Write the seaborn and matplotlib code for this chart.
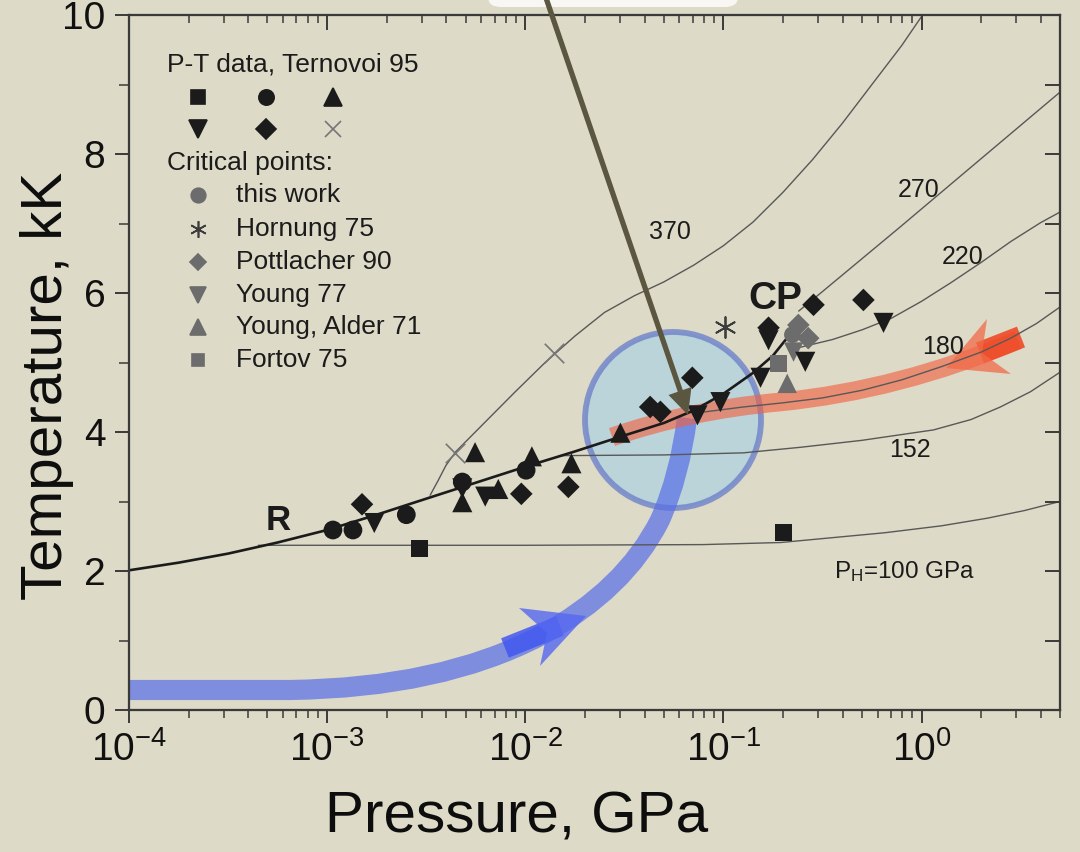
import numpy as np
import matplotlib
matplotlib.use("Agg")
import matplotlib.pyplot as plt
import seaborn as sns
from matplotlib.lines import Line2D
from matplotlib.patches import Ellipse, Polygon, PathPatch, FancyBboxPatch
from matplotlib.path import Path
from matplotlib.ticker import (LogLocator, MultipleLocator, FuncFormatter,
                               NullFormatter, NullLocator)

# ---------------------------------------------------------------- data
# liquid-vapour boundary (pressure in GPa, temperature in kK)
binodal_p = [1.0e-4, 1.78e-4, 3.16e-4, 5.62e-4, 1.0e-3, 1.78e-3, 3.16e-3,
             5.62e-3, 1.0e-2, 1.78e-2, 3.16e-2, 5.01e-2, 7.08e-2, 0.100,
             0.141, 0.178, 0.219]
binodal_t = [2.01, 2.12, 2.25, 2.41, 2.59, 2.81, 3.04, 3.27, 3.50, 3.72,
             3.95, 4.13, 4.31, 4.55, 4.85, 5.10, 5.42]

# release isentropes, labelled by shock pressure P_H (GPa)
iso_100_p = [4.5e-4, 1.0e-2, 7.9e-2, 0.195, 0.65, 1.26, 2.15, 3.31, 5.0]
iso_100_t = [2.37, 2.37, 2.38, 2.41, 2.55, 2.65, 2.76, 2.87, 3.00]
iso_152_p = [1.5e-2, 5.0e-2, 0.126, 0.245, 0.50, 1.15, 1.78, 2.5, 3.55, 5.0]
iso_152_t = [3.66, 3.67, 3.70, 3.78, 3.88, 4.03, 4.18, 4.36, 4.58, 4.86]
iso_180_p = [7.59e-2, 0.126, 0.200, 0.316, 0.501, 0.794, 1.26, 2.00, 2.82,
             3.80, 5.01]
iso_180_t = [4.28, 4.36, 4.42, 4.49, 4.60, 4.75, 4.94, 5.15, 5.35, 5.56, 5.80]
iso_220_p = [0.245, 0.355, 0.501, 0.708, 1.00, 1.41, 2.00, 2.82, 3.98, 5.04]
iso_220_t = [5.22, 5.33, 5.47, 5.64, 5.88, 6.15, 6.44, 6.74, 7.01, 7.17]
iso_270_p = [0.24, 0.31, 0.78, 1.71, 5.0]
iso_270_t = [5.74, 6.00, 6.95, 7.77, 8.89]
iso_370_p = [3.31e-3, 3.63e-3, 3.98e-3, 4.47e-3, 6.31e-3, 8.91e-3, 1.26e-2,
             1.78e-2, 2.51e-2, 3.55e-2, 5.01e-2, 7.08e-2, 0.100, 0.141,
             0.200, 0.282, 0.398, 0.562, 0.794, 1.07]
iso_370_t = [3.09, 3.30, 3.52, 3.72, 4.15, 4.58, 5.00, 5.38, 5.72, 5.96,
             6.16, 6.40, 6.68, 7.02, 7.45, 7.92, 8.44, 9.00, 9.56, 10.1]

# P-T data, Ternovoi 95
tern_sq_p = [2.92e-3, 0.201]
tern_sq_t = [2.32, 2.55]
tern_circ_p = [1.07e-3, 1.35e-3, 2.51e-3, 4.81e-3, 1.01e-2]
tern_circ_t = [2.59, 2.59, 2.81, 3.28, 3.45]
tern_up_p = [4.81e-3, 5.58e-3, 7.31e-3, 1.08e-2, 1.71e-2, 3.02e-2]
tern_up_t = [2.99, 3.71, 3.18, 3.65, 3.55, 3.99]
tern_down_p = [1.73e-3, 4.81e-3, 6.28e-3, 7.40e-2, 9.66e-2, 0.154, 0.169,
               0.259, 0.643]
tern_down_t = [2.69, 3.19, 3.07, 4.24, 4.43, 4.78, 5.32, 5.01, 5.57]
tern_dia_p = [1.50e-3, 9.55e-3, 1.65e-2, 4.27e-2, 4.81e-2, 6.97e-2, 0.169,
              0.285, 0.509]
tern_dia_t = [2.96, 3.11, 3.21, 4.36, 4.29, 4.78, 5.50, 5.83, 5.90]
tern_x_p = [4.43e-3, 1.40e-2]
tern_x_t = [3.70, 5.14]

# critical point estimates
cp_this_work_p, cp_this_work_t = [0.223], [5.40]
cp_hornung_p, cp_hornung_t = [0.102], [5.51]
cp_pottlacher_p, cp_pottlacher_t = [0.239, 0.268], [5.54, 5.35]
cp_young77_p, cp_young77_t = [0.226], [5.15]
cp_young_alder_p, cp_young_alder_t = [0.210], [4.70]
cp_fortov_p, cp_fortov_t = [0.190], [4.99]

iso_labels = ["370", "270", "220", "180", "152"]
iso_label_p = [0.054, 0.966, 1.61, 1.29, 0.879]
iso_label_t = [6.88, 7.48, 6.52, 5.22, 3.74]

critical_labels = ["this work", "Hornung 75", "Pottlacher 90", "Young 77",
                   "Young, Alder 71", "Fortov 75"]

# ---------------------------------------------------------------- style
BG = "#DDDAC7"
INK = "#1b1b1b"
GREY = "#6c6c6c"
SPINE = "#3a3a3a"
ISO = "#585858"

sns.set_theme(style="ticks", rc={"axes.facecolor": BG, "figure.facecolor": BG})
plt.rcParams["font.family"] = ["Liberation Sans", "DejaVu Sans"]
plt.rcParams["mathtext.fontset"] = "custom"
plt.rcParams["mathtext.rm"] = "Liberation Sans"
plt.rcParams["mathtext.it"] = "Liberation Sans:italic"
plt.rcParams["mathtext.bf"] = "Liberation Sans:bold"

W, H = 1080, 852
fig = plt.figure(figsize=(W / 100, H / 100), dpi=100)
fig.patch.set_facecolor(BG)

L, R, T, B = 129, 1060, 15, 710
ax = fig.add_axes([L / W, 1 - B / H, (R - L) / W, (B - T) / H])
ax.set_facecolor(BG)
ax.set_xscale("log")


def fp(px, py):
    """pixel position on the slide -> figure fraction"""
    return (px / W, 1 - py / H)


def af(px, py):
    """pixel position on the slide -> axes fraction"""
    return ((px - L) / (R - L), (B - py) / (B - T))


# ---------------------------------------------------------------- highlight circle
circ = Ellipse(fp(673, 420), 176 / W, 176 / H, transform=fig.transFigure,
               facecolor=(0.72, 0.83, 0.86, 0.95),
               edgecolor=(0.43, 0.51, 0.79, 0.8), lw=4.2, zorder=0.5)
circ.set_clip_on(False)
ax.add_patch(circ)


# ---------------------------------------------------------------- motion bands
def band(verts, codes, color, alpha, width, z):
    pts = [fp(*v) for v in verts]
    patch = PathPatch(Path(pts, codes), transform=fig.transFigure, fill=False,
                      edgecolor=color, alpha=alpha, lw=width,
                      capstyle="butt", joinstyle="round", zorder=z)
    patch.set_clip_on(False)
    ax.add_patch(patch)


# blue path (cold compression towards the critical region)
band([(129, 690), (290, 690), (440, 688), (540, 636), (625, 590), (660, 520),
      (680, 475), (687, 418)],
     [Path.MOVETO, Path.LINETO, Path.CURVE3, Path.CURVE3, Path.CURVE3,
      Path.CURVE3, Path.CURVE3, Path.CURVE3],
     "#5A70E6", 0.72, 14.5, 1.5)

# red path (release from the high-pressure side)
band([(1018, 340), (900, 390), (780, 402), (690, 410), (612, 437)],
     [Path.MOVETO, Path.CURVE3, Path.CURVE3, Path.CURVE3, Path.CURVE3],
     "#F2603F", 0.62, 13.5, 1.5)


def poly(points, color, alpha, z, target=None):
    p = Polygon([fp(*q) for q in points], closed=True, transform=fig.transFigure,
                facecolor=color, edgecolor="none", alpha=alpha, zorder=z)
    p.set_clip_on(False)
    if target is None:
        ax.add_patch(p)
    else:
        target.add_artist(p)


def seg(a, b, color, alpha, width, z, target=None):
    (x0, y0), (x1, y1) = fp(*a), fp(*b)
    ln = Line2D([x0, x1], [y0, y1], transform=fig.transFigure, color=color,
                alpha=alpha, lw=width, solid_capstyle="butt", zorder=z)
    ln.set_clip_on(False)
    if target is None:
        ax.add_line(ln)
    else:
        target.add_artist(ln)


# saturated arrow heads
seg((505, 648), (560, 626), "#4357F0", 0.85, 15, 1.6)
poly([(586, 616), (519, 608), (547, 633), (540, 666)], "#5568F0", 0.8, 1.7)
seg((1021, 337), (980, 353), "#EF4A26", 0.9, 16, 1.6)
poly([(946, 368), (987, 319), (982, 353), (1011, 374)], "#F26A48", 0.75, 1.7)

# ---------------------------------------------------------------- isentropes
for p, t in [(iso_100_p, iso_100_t), (iso_152_p, iso_152_t),
             (iso_180_p, iso_180_t), (iso_220_p, iso_220_t),
             (iso_270_p, iso_270_t), (iso_370_p, iso_370_t)]:
    sns.lineplot(x=p, y=t, ax=ax, color=ISO, lw=1.0, sort=False,
                 estimator=None, zorder=2)

sns.lineplot(x=binodal_p, y=binodal_t, ax=ax, color=INK, lw=1.9, sort=False,
             estimator=None, zorder=2.5)


# ---------------------------------------------------------------- markers
def pts(p, t, marker, size, color, z=4, lw=0):
    sns.scatterplot(x=p, y=t, ax=ax, marker=marker, s=size ** 2, color=color,
                    edgecolor=color if lw else "none", linewidth=lw, zorder=z)


pts(cp_this_work_p, cp_this_work_t, "o", 12, GREY, z=3)
pts(cp_fortov_p, cp_fortov_t, "s", 12, GREY, z=3)
pts(cp_young_alder_p, cp_young_alder_t, "^", 14, GREY, z=3)
pts(cp_young77_p, cp_young77_t, "v", 14, GREY, z=3)
pts(cp_pottlacher_p, cp_pottlacher_t, "D", 11.5, GREY, z=3)
sns.scatterplot(x=cp_hornung_p, y=cp_hornung_t, ax=ax, marker=(6, 2, 0),
                s=15 ** 2, color="#3c3c3c", linewidth=1.3, zorder=3)
sns.scatterplot(x=tern_x_p, y=tern_x_t, ax=ax, marker="x", s=14 ** 2,
                color="#767676", linewidth=1.2, zorder=3)

pts(tern_sq_p, tern_sq_t, "s", 12, INK)
pts(tern_circ_p, tern_circ_t, "o", 13.5, INK)
pts(tern_up_p, tern_up_t, "^", 14.5, INK)
pts(tern_down_p, tern_down_t, "v", 14.5, INK)
pts(tern_dia_p, tern_dia_t, "D", 11.5, INK)

# ---------------------------------------------------------------- curve labels
for lab, p, t in zip(iso_labels, iso_label_p, iso_label_t):
    ax.text(p, t, lab, ha="center", va="center", fontsize=18, color=INK,
            zorder=6)
ax.text(0.820, 1.99, r"P$_{\mathregular{H}}$=100 GPa", ha="center",
        va="center", fontsize=17.5, color=INK, zorder=6)
ax.text(5.66e-4, 2.73, "R", ha="center", va="center", fontsize=25,
        fontweight="bold", color=INK, zorder=6)
ax.text(0.183, 5.91, "CP", ha="center", va="center", fontsize=28,
        fontweight="bold", color=INK, zorder=6)

# ---------------------------------------------------------------- legend block
LEG_FS = 19
ax.text(*af(167, 64), "P-T data, Ternovoi 95", transform=ax.transAxes,
        ha="left", va="center", fontsize=LEG_FS, color=INK)
legend_rows = [
    [(198, 97, "s", 9.5, INK), (266, 97, "o", 11, INK), (333, 97, "^", 12.5, INK)],
    [(198, 129, "v", 12.5, INK), (266, 129, "D", 10, INK), (333, 129, "x", 12, "#767676")],
]
for row in legend_rows:
    for px, py, m, ms, c in row:
        ax.plot(*af(px, py), marker=m, ms=ms, color=c, ls="none",
                mew=1.2, transform=ax.transAxes, clip_on=False)
ax.text(*af(167, 163), "Critical points:", transform=ax.transAxes,
        ha="left", va="center", fontsize=LEG_FS, color=INK)
crit_markers = [("o", 10.5), ((6, 2, 0), 12), ("D", 8.5), ("v", 11.5),
                ("^", 11.5), ("s", 9)]
crit_rows = [195, 229, 262, 295, 327, 360]
for lab, (m, ms), py in zip(critical_labels, crit_markers, crit_rows):
    col = "#3c3c3c" if m == (6, 2, 0) else GREY
    ax.plot(*af(198, py), marker=m, ms=ms, color=col, ls="none", mew=1.2,
            transform=ax.transAxes, clip_on=False)
    ax.text(*af(236, py), lab, transform=ax.transAxes, ha="left",
            va="center", fontsize=LEG_FS, color=INK)

# ---------------------------------------------------------------- axes, ticks
ax.set_xlim(1e-4, 5)
ax.set_ylim(0, 10)
ax.set_xlabel("")
ax.set_ylabel("")

ax.xaxis.set_major_locator(LogLocator(base=10, numticks=12))
ax.xaxis.set_minor_locator(LogLocator(base=10, subs=np.arange(2, 10), numticks=12))
ax.xaxis.set_minor_formatter(NullFormatter())
ax.xaxis.set_major_formatter(
    FuncFormatter(lambda v, pos: r"$\mathregular{10^{%d}}$" % round(np.log10(v))))
ax.yaxis.set_major_locator(MultipleLocator(2))
ax.yaxis.set_minor_locator(MultipleLocator(1))

ax.tick_params(axis="both", which="both", color=SPINE, labelcolor="#111111")
ax.tick_params(axis="x", which="major", direction="out", length=9.5, width=1.4,
               labelsize=28, pad=6)
ax.tick_params(axis="x", which="minor", direction="out", length=5.5, width=1.1)
ax.tick_params(axis="y", which="major", direction="out", length=10, width=1.4,
               labelsize=28, pad=7)
ax.tick_params(axis="y", which="minor", direction="out", length=7, width=1.1)

axt = ax.twiny()
axt.set_xscale("log")
axt.set_xlim(1e-4, 5)
axt.xaxis.set_major_locator(LogLocator(base=10, numticks=12))
axt.xaxis.set_minor_locator(LogLocator(base=10, subs=np.arange(2, 10), numticks=12))
axt.tick_params(axis="x", which="major", direction="in", length=11, width=1.4,
                color=SPINE, labeltop=False)
axt.tick_params(axis="x", which="minor", direction="in", length=6, width=1.1,
                color=SPINE)

axr = ax.twinx()
axr.set_ylim(0, 10)
axr.yaxis.set_major_locator(MultipleLocator(1))
axr.yaxis.set_minor_locator(NullLocator())
axr.tick_params(axis="y", which="major", direction="in", length=11, width=1.4,
                color=SPINE, labelright=False)

for a in (ax, axt, axr):
    for s in a.spines.values():
        s.set_linewidth(1.5)
        s.set_color(SPINE)

fig.text(0.0435, 1 - 386 / H, "Temperature, kK", rotation=90, ha="center",
         va="center", fontsize=42, color="#0d0d0d")
fig.text(517 / W, 20 / H, "Pressure, GPa", ha="center", va="baseline",
         fontsize=42, color="#0d0d0d")

# ---------------------------------------------------------------- callout pointer
box = FancyBboxPatch(fp(488, 7), 250 / W, 70 / H,
                     boxstyle="round,pad=0,rounding_size=0.012",
                     transform=fig.transFigure, facecolor="white",
                     edgecolor="none", alpha=0.8, zorder=9)
fig.add_artist(box)
seg((545, -5), (681, 393), "#5B5640", 1.0, 3.8, 10, target=fig)
poly([(688, 415), (668.5, 395), (691.5, 387)], "#5B5640", 1.0, 10, target=fig)

fig.savefig("out.png", dpi=100, facecolor=BG)
